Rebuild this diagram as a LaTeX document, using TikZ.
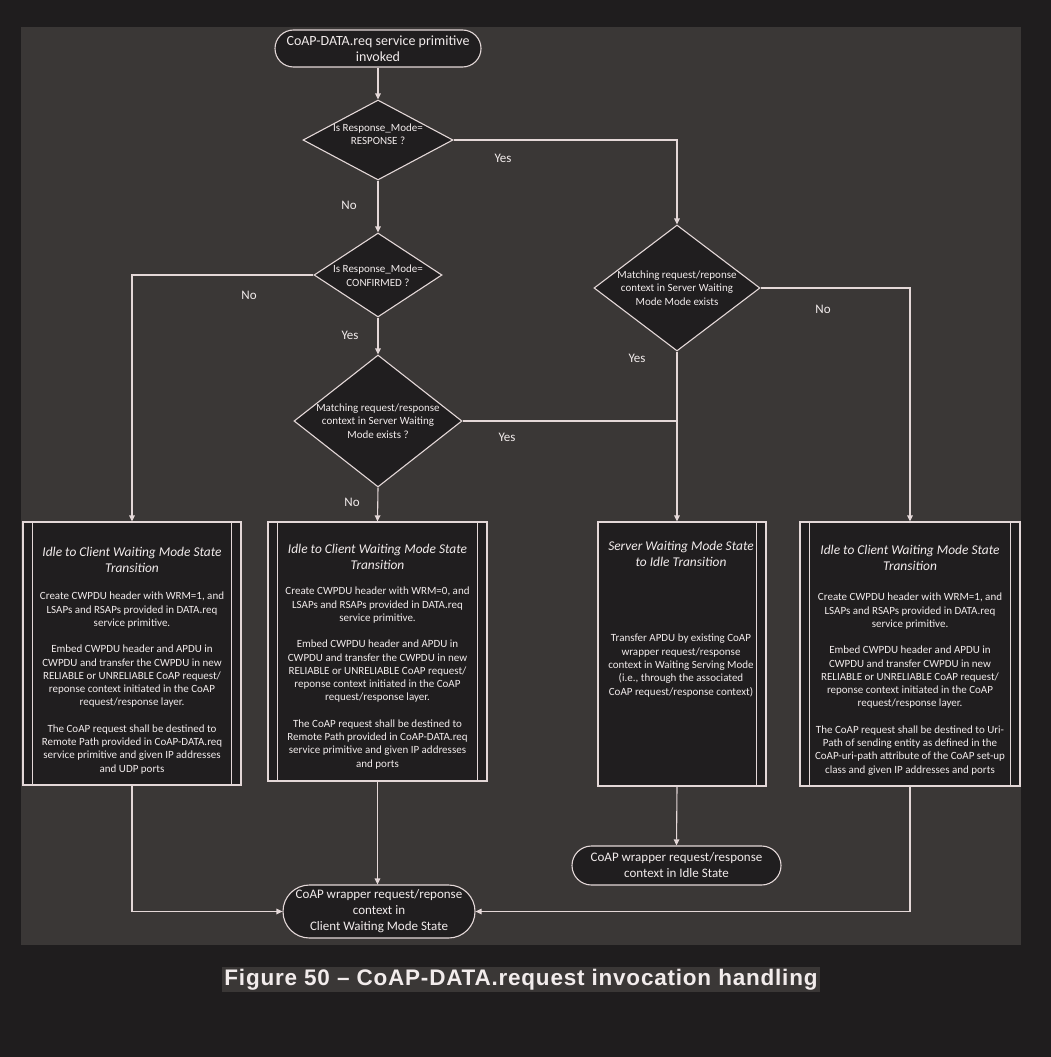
\documentclass[tikz,border=0pt]{standalone}
\usepackage{fontspec}
\setmainfont{Carlito}
\newfontfamily\capfont[LetterSpace=3.5]{Liberation Sans}
\usetikzlibrary{shapes.geometric,shapes.misc,arrows.meta}
\definecolor{outerbg}{RGB}{31,29,30}
\definecolor{panelbg}{RGB}{58,55,54}
\definecolor{nodefill}{RGB}{32,30,31}
\definecolor{linec}{RGB}{228,216,216}
\definecolor{txt}{RGB}{242,236,236}
\begin{document}
\begin{tikzpicture}[x=1pt,y=-1pt,
  conn/.style={draw=linec,line width=1.1pt},
  arr/.style={conn,-{Triangle[length=6pt,width=5.5pt]}},
  term/.style={rounded rectangle,draw=linec,line width=1.1pt,fill=nodefill,inner sep=0pt,text=txt,align=center,font=\fontsize{13}{16}\selectfont},
  dia/.style={diamond,draw=linec,line width=1.1pt,fill=nodefill,inner sep=0pt},
  dtext/.style={text=txt,align=center,inner sep=0pt,font=\fontsize{11}{13.5}\selectfont},
  proc/.style={rectangle,draw=linec,line width=1.1pt,fill=nodefill,inner sep=0pt},
  ttl/.style={text=txt,align=center,inner sep=0pt,anchor=north,font=\fontsize{13.4}{16}\selectfont\itshape},
  body/.style={text=txt,align=center,inner sep=0pt,anchor=north,font=\fontsize{11}{13.3}\selectfont},
  lbl/.style={text=txt,inner sep=0pt,font=\fontsize{13}{15}\selectfont}
]
\useasboundingbox (0,0) rectangle (1051,1057);
\fill[outerbg] (0,0) rectangle (1051,1057);
\fill[panelbg] (21,27) rectangle (1021,945);

% terminals
\node[term,minimum width=206pt,minimum height=37pt,font=\fontsize{14}{15.5}\selectfont] (start) at (378,48.5) {CoAP-DATA.req service primitive\\invoked};
\node[term,minimum width=192pt,minimum height=53pt] (client) at (379,911.5) {CoAP wrapper request/reponse\\context in\\Client Waiting Mode State};
\node[term,minimum width=209pt,minimum height=39pt] (idle) at (676.5,865.5) {CoAP wrapper request/response\\context in Idle State};

% decisions
\node[dia,minimum width=150pt,minimum height=80pt] (d1) at (378,140) {};
\node[dtext] (d1t) at (378,134) {Is Response\_Mode=\\RESPONSE ?};
\node[dia,minimum width=128pt,minimum height=84pt] (d2) at (378,275) {};
\node[dtext] (d2t) at (378,275.5) {Is Response\_Mode=\\CONFIRMED ?};
\node[dia,minimum width=168pt,minimum height=132pt] (d4) at (378,421) {};
\node[dtext] (d4t) at (378,421) {Matching request/response\\context in Server Waiting\\Mode exists ?};
\node[dia,minimum width=166pt,minimum height=126pt] (d3) at (677,288) {};
\node[dtext] (d3t) at (677,288) {Matching request/reponse\\context in  Server Waiting\\Mode Mode exists};

% process boxes
\node[proc,minimum width=218pt,minimum height=263pt] (b1) at (132,653.5) {};
\node[proc,minimum width=219pt,minimum height=259pt] (b2) at (377.5,651.5) {};
\node[proc,minimum width=168pt,minimum height=264pt] (b3) at (682,654) {};
\node[proc,minimum width=220pt,minimum height=264pt] (b4) at (910,654) {};
\foreach \b in {b1,b2,b4}{
  \draw[conn] ([xshift=10pt]\b.north west) -- ([xshift=10pt]\b.south west);
  \draw[conn] ([xshift=-10pt]\b.north east) -- ([xshift=-10pt]\b.south east);
}
\draw[conn] ([xshift=-10pt]b3.north east) -- ([xshift=-10pt]b3.south east);

% box texts
\node[ttl] (b1t) at (132,547) {Idle to  Client Waiting Mode State\\Transition};
\node[body] (b1b) at (132,592) {Create CWPDU header with WRM=1, and\\LSAPs and RSAPs provided in DATA.req\\service primitive.\\[13pt]
Embed CWPDU header and APDU in\\CWPDU and transfer the CWPDU in new\\RELIABLE or UNRELIABLE CoAP  request/\\reponse context initiated in the CoAP\\request/response layer.\\[13pt]
The CoAP request shall be destined to\\Remote Path provided in  CoAP-DATA.req\\service primitive  and given IP addresses\\and UDP ports};

\node[ttl] (b2t) at (377.5,544) {Idle to Client Waiting Mode State\\Transition};
\node[body] (b2b) at (377.5,587) {Create CWPDU header with WRM=0, and\\LSAPs and RSAPs provided in DATA.req\\service primitive.\\[13pt]
Embed  CWPDU header and APDU in\\CWPDU and transfer the CWPDU in  new\\RELIABLE or UNRELIABLE CoAP request/\\reponse context initiated in  the CoAP\\request/response layer.\\[13pt]
The CoAP request shall be destined to\\Remote Path provided in CoAP-DATA.req\\service primitive and given IP addresses\\and ports};

\node[ttl] (b3t) at (681,541) {Server Waiting Mode State\\to Idle Transition};
\node[body] (b3b) at (681,634) {Transfer APDU by existing CoAP\\wrapper request/response\\context in Waiting Serving Mode\\(i.e., through the associated\\CoAP request/response context)};

\node[ttl] (b4t) at (910,545) {Idle to Client Waiting Mode State\\Transition};
\node[body] (b4b) at (910,593) {Create CWPDU header with WRM=1, and\\LSAPs and RSAPs provided in  DATA.req\\service primitive.\\[13pt]
Embed CWPDU header and APDU in\\CWPDU and transfer CWPDU in new\\RELIABLE or UNRELIABLE CoAP request/\\reponse context initiated in the CoAP\\request/response layer.\\[13pt]
The CoAP request shall be  destined to Uri-\\Path of sending entity as defined in the\\CoAP-uri-path attribute of the CoAP set-up\\class and given IP addresses and ports};

% connectors
\draw[arr] (start.south) -- (d1.north);
\draw[arr] (d1.south) -- (d2.north);
\draw[arr] (d1.east) -| (d3.north);
\draw[arr] (d2.west) -| (b1.north);
\draw[arr] (d2.south) -- (d4.north);
\draw[arr] (d4.south) -- (b2.north);
\draw[conn] (d4.east) -- (d3.south |- d4.east);
\draw[arr] (d3.south) -- (d3.south |- b3.north);
\draw[arr] (d3.east) -| (b4.north);
\draw[arr] (d3.south |- b3.south) -- (idle.north);
\draw[arr] (b1.south) |- (client.west);
\draw[arr] (b2.south) -- (client.north -| b2.south);
\draw[arr] (b4.south) |- (client.east);

% labels
\node[lbl] (l1) at (503,158) {Yes};
\node[lbl] (l2) at (349,205) {No};
\node[lbl] (l3) at (249,295) {No};
\node[lbl] (l4) at (350,335) {Yes};
\node[lbl] (l5) at (507,437) {Yes};
\node[lbl] (l6) at (352,502) {No};
\node[lbl] (l7) at (637,358) {Yes};
\node[lbl] (l8) at (823,309) {No};

% caption
\node[fill=panelbg,text=txt,inner xsep=2pt,inner ysep=0pt,minimum height=25pt,font=\capfont\fontsize{22.5}{24}\selectfont\bfseries] (cap) at (521,979.5) {Figure 50 – CoAP-DATA.request invocation handling};
\end{tikzpicture}
\end{document}
